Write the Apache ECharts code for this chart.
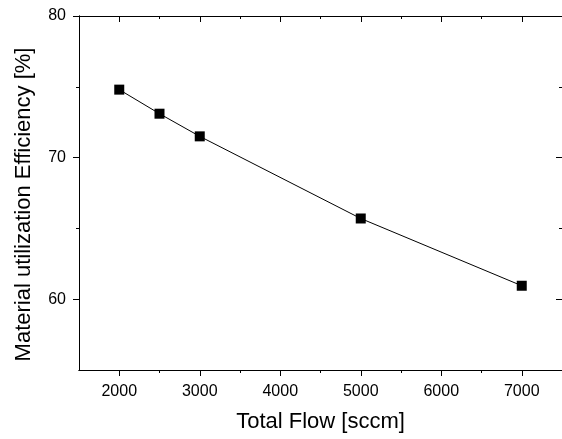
<!DOCTYPE html>
<html>
<head>
<meta charset="utf-8">
<script src="https://cdn.jsdelivr.net/npm/echarts@6/dist/echarts.min.js"></script>
<style>
  html, body { margin: 0; padding: 0; background: #fff; }
  #chart { width: 562px; height: 439px; }
</style>
</head>
<body>
<div id="chart"></div>
<script>
// Material utilization efficiency versus total gas flow
const totalFlow = [2000, 2500, 3000, 5000, 7000];
const efficiency = [74.8, 73.1, 71.5, 65.7, 60.95];

const xMajorTicks = [2000, 3000, 4000, 5000, 6000, 7000];
const xMinorTicks = [2500, 3500, 4500, 5500, 6500];
const yMajorTicks = [60, 70, 80];
const yMinorTicks = [65, 75];

const FONT = 'Liberation Sans, Arial, sans-serif';
const INK = '#000';

function xAxisDef(position, ticks, tickLen, inside, withLabels, extra) {
  return Object.assign({
    type: 'value', position: position, min: 1500, max: 7500,
    axisLine: { show: true, onZero: false, lineStyle: { color: INK, width: 1 } },
    axisTick: { show: true, inside: inside, length: tickLen, customValues: ticks,
                lineStyle: { color: INK, width: 1 } },
    axisLabel: withLabels
      ? { show: true, customValues: ticks, margin: 14, fontFamily: FONT, fontSize: 16, color: INK,
          formatter: v => String(v) }
      : { show: false },
    splitLine: { show: false }
  }, extra || {});
}

function yAxisDef(position, ticks, tickLen, inside, withLabels, extra) {
  return Object.assign({
    type: 'value', position: position, min: 55, max: 80,
    axisLine: { show: true, onZero: false, lineStyle: { color: INK, width: 1 } },
    axisTick: { show: true, inside: inside, length: tickLen, customValues: ticks,
                lineStyle: { color: INK, width: 1 } },
    axisLabel: withLabels
      ? { show: true, customValues: ticks, margin: 13, fontFamily: FONT, fontSize: 16, color: INK,
          formatter: v => String(v) }
      : { show: false },
    splitLine: { show: false }
  }, extra || {});
}

const chart = echarts.init(document.getElementById('chart'), null, { renderer: 'canvas' });
chart.setOption({
  animation: false,
  backgroundColor: '#fff',
  grid: { left: 79, right: 0, top: 16, bottom: 69, containLabel: false },
  xAxis: [
    xAxisDef('bottom', xMajorTicks, 6, false, true, {
      name: 'Total Flow [sccm]', nameLocation: 'middle', nameGap: 41,
      nameTextStyle: { fontFamily: FONT, fontSize: 22, color: INK }
    }),
    xAxisDef('bottom', xMinorTicks, 3, false, false),
    xAxisDef('top', xMajorTicks, 6, true, false),
    xAxisDef('top', xMinorTicks, 3, true, false)
  ],
  yAxis: [
    yAxisDef('left', yMajorTicks, 6, false, true, {
      name: 'Material utilization Efficiency [%]', nameLocation: 'middle', nameGap: 44,
      nameTextStyle: { fontFamily: FONT, fontSize: 22, color: INK, padding: [0, 23, 0, 0] }
    }),
    yAxisDef('left', yMinorTicks, 3, false, false),
    yAxisDef('right', yMajorTicks, 6, true, false),
    yAxisDef('right', yMinorTicks, 3, true, false)
  ],
  series: [{
    type: 'line',
    xAxisIndex: 0, yAxisIndex: 0,
    data: totalFlow.map((x, i) => [x, efficiency[i]]),
    symbol: 'rect', symbolSize: 10,
    itemStyle: { color: INK },
    lineStyle: { color: INK, width: 1 }
  }]
});
</script>
</body>
</html>
